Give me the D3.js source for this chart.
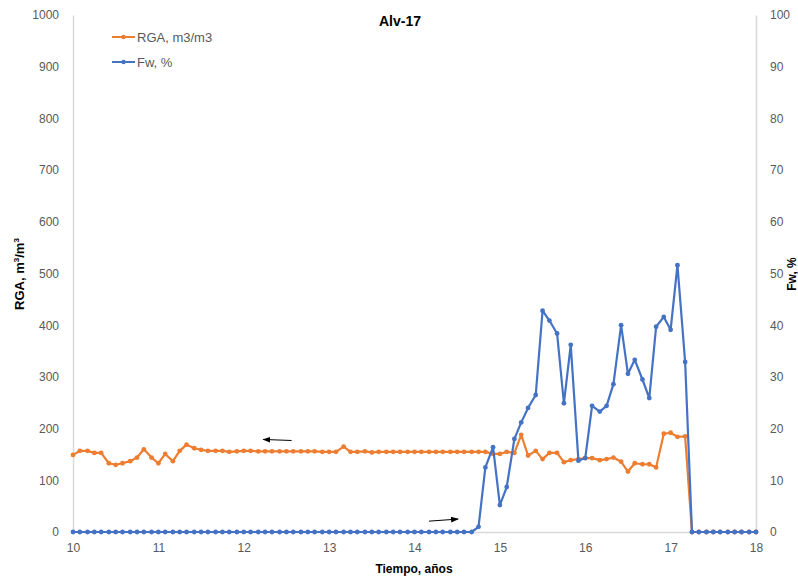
<html>
<head>
    <meta charset="utf-8">
    <script src="https://d3js.org/d3.v7.min.js"></script>
</head>
<style>
    body { margin: 0; background: #fff; }
    svg text { font-family: "Liberation Sans", Arial, sans-serif; }
    .axis .domain { stroke: #d9d9d9; stroke-width: 1.5; }
    .axis text { fill: #595959; font-size: 12px; }
</style>
<body>
    <svg height="577" width="798" id="chart">
        <defs>
        <marker id="head" markerWidth="8" markerHeight="6" refX="7" refY="3" orient="auto" markerUnits="userSpaceOnUse">
        <path d="M 0 0 L 8 3 L 0 6 Z" fill="#000" />
        </marker>
        </defs>
    </svg>
</body>
<script>

    // tiempo en años (mensual)
    const tiempo = [
        10.00,10.08,10.17,10.25,10.33,10.42,10.50,10.58,10.67,10.75,10.83,10.92,
        11.00,11.08,11.17,11.25,11.33,11.42,11.50,11.58,11.67,11.75,11.83,11.92,
        12.00,12.08,12.17,12.25,12.33,12.42,12.50,12.58,12.67,12.75,12.83,12.92,
        13.00,13.08,13.17,13.25,13.33,13.42,13.50,13.58,13.67,13.75,13.83,13.92,
        14.00,14.08,14.17,14.25,14.33,14.42,14.50,14.58,14.67,14.75,14.83,14.92,
        15.00,15.08,15.17,15.25,15.33,15.42,15.50,15.58,15.67,15.75,15.83,15.92,
        16.00,16.08,16.17,16.25,16.33,16.42,16.50,16.58,16.67,16.75,16.83,16.92,
        17.00,17.08,17.17,17.25,17.33,17.42,17.50,17.58,17.67,17.75,17.83,17.92,
        18.00
    ];

    // RGA, m3/m3 (eje izquierdo)
    const rga = [
        149,157,157,153,153,133,130,133,137,144,160,144,
        133,151,137,157,169,162,159,157,157,157,155,156,
        157,157,156,156,156,156,156,156,156,156,156,155,
        155,155,165,155,155,156,154,155,155,155,155,155,
        155,155,155,155,155,155,155,155,155,155,155,151,
        151,155,153,188,148,157,141,153,153,135,139,141,
        143,143,139,141,144,136,117,133,131,131,125,190,
        192,184,185,0,0,0,0,0,0,0,0,0,
        0
    ];

    // Fw, % (eje derecho)
    const fw = [
        0,0,0,0,0,0,0,0,0,0,0,0,
        0,0,0,0,0,0,0,0,0,0,0,0,
        0,0,0,0,0,0,0,0,0,0,0,0,
        0,0,0,0,0,0,0,0,0,0,0,0,
        0,0,0,0,0,0,0,0,0,1.0,12.5,16.4,
        5.2,8.7,18.0,21.2,24.0,26.5,42.8,40.9,38.4,24.9,36.2,13.8,
        14.3,24.4,23.3,24.4,28.6,40.0,30.6,33.3,29.5,25.9,39.7,41.6,
        39.1,51.6,32.9,0,0,0,0,0,0,0,0,0,
        0
    ];

    const xTicks = [10, 11, 12, 13, 14, 15, 16, 17, 18];
    const leftTicks = [0, 100, 200, 300, 400, 500, 600, 700, 800, 900, 1000];
    const rightTicks = [0, 10, 20, 30, 40, 50, 60, 70, 80, 90, 100];

    const seriesNames = ["RGA, m3/m3", "Fw, %"];
    const seriesColors = ["#ED7D31", "#4472C4"];

    // flechas (en unidades de datos): [x1, y1, x2, y2, eje]
    const flechas = [
        [12.56, 177, 12.23, 179, "left"],
        [14.17, 2.1, 14.51, 2.5, "right"]
    ];

    let plt = d3.select('svg#chart');

    let margins = { "top": 15, "right": 42, "bottom": 45, "left": 73 };
    let width = +plt.attr('width');
    let height = +plt.attr('height');

    let x_scale = d3.scaleLinear()
                    .domain([10, 18])
                    .range([margins.left, width - margins.right]);

    let yl_scale = d3.scaleLinear()
                    .domain([0, 1000])
                    .range([height - margins.bottom, margins.top]);

    let yr_scale = d3.scaleLinear()
                    .domain([0, 100])
                    .range([height - margins.bottom, margins.top]);

    plt.append('g')
        .attr('class', 'axis')
        .attr('transform', `translate(${margins.left},0)`)
        .call(d3.axisLeft(yl_scale).tickValues(leftTicks).tickFormat(d3.format('d')).tickSize(0).tickPadding(14));

    plt.append('g')
        .attr('class', 'axis')
        .attr('transform', `translate(${width - margins.right},0)`)
        .call(d3.axisRight(yr_scale).tickValues(rightTicks).tickFormat(d3.format('d')).tickSize(0).tickPadding(14));

    plt.append('g')
        .attr('class', 'axis')
        .attr('transform', `translate(0,${height - margins.bottom})`)
        .call(d3.axisBottom(x_scale).tickValues(xTicks).tickFormat(d3.format('d')).tickSize(0).tickPadding(11));

    // títulos
    plt.append('text')
        .attr('x', 400).attr('y', 26)
        .attr('text-anchor', 'middle')
        .attr('font-size', 14).attr('font-weight', 'bold')
        .text('Alv-17');

    plt.append('text')
        .attr('x', 414).attr('y', 573)
        .attr('text-anchor', 'middle')
        .attr('font-size', 12).attr('font-weight', 'bold')
        .text('Tiempo, años');

    let ylab = plt.append('text')
        .attr('transform', 'translate(24,274) rotate(-90)')
        .attr('text-anchor', 'middle')
        .attr('font-size', 13).attr('font-weight', 'bold');
    ylab.append('tspan').text('RGA, m');
    ylab.append('tspan').attr('font-size', 8).attr('dy', -5).text('3');
    ylab.append('tspan').attr('dy', 5).text('/m');
    ylab.append('tspan').attr('font-size', 8).attr('dy', -5).text('3');

    plt.append('text')
        .attr('transform', 'translate(796,274) rotate(-90)')
        .attr('text-anchor', 'middle')
        .attr('font-size', 12).attr('font-weight', 'bold')
        .text('Fw, %');

    // series
    let rga_data = tiempo.map((t, i) => ({ t: t, v: rga[i] }));
    let fw_data = tiempo.map((t, i) => ({ t: t, v: fw[i] }));

    let drawSeries = (data, yscale, color) => {
        let line = d3.line().x(d => x_scale(d.t)).y(d => yscale(d.v));
        let g = plt.append('g');
        g.append('path')
            .datum(data)
            .attr('d', line)
            .attr('fill', 'none')
            .attr('stroke', color)
            .attr('stroke-width', 2.2)
            .attr('stroke-linejoin', 'round');
        g.selectAll('circle')
            .data(data)
            .join('circle')
            .attr('cx', d => x_scale(d.t))
            .attr('cy', d => yscale(d.v))
            .attr('r', 2.4)
            .attr('fill', color);
    }

    drawSeries(rga_data, yl_scale, seriesColors[0]);
    drawSeries(fw_data, yr_scale, seriesColors[1]);

    // flechas
    flechas.forEach(f => {
        let ys = f[4] === 'left' ? yl_scale : yr_scale;
        plt.append('line')
            .attr('x1', x_scale(f[0])).attr('y1', ys(f[1]))
            .attr('x2', x_scale(f[2])).attr('y2', ys(f[3]))
            .attr('stroke', '#000')
            .attr('stroke-width', 1)
            .attr('marker-end', 'url(#head)');
    });

    // leyenda
    let legend = plt.append('g');
    seriesNames.forEach((name, i) => {
        let ly = 37 + i * 25;
        legend.append('line')
            .attr('x1', 112).attr('x2', 135)
            .attr('y1', ly).attr('y2', ly)
            .attr('stroke', seriesColors[i]).attr('stroke-width', 2);
        legend.append('circle')
            .attr('cx', 123.5).attr('cy', ly).attr('r', 2.2)
            .attr('fill', seriesColors[i]);
        legend.append('text')
            .attr('x', 137).attr('y', ly + 4.5)
            .attr('font-size', 13).attr('fill', '#595959')
            .text(name);
    });

</script>
</html>
